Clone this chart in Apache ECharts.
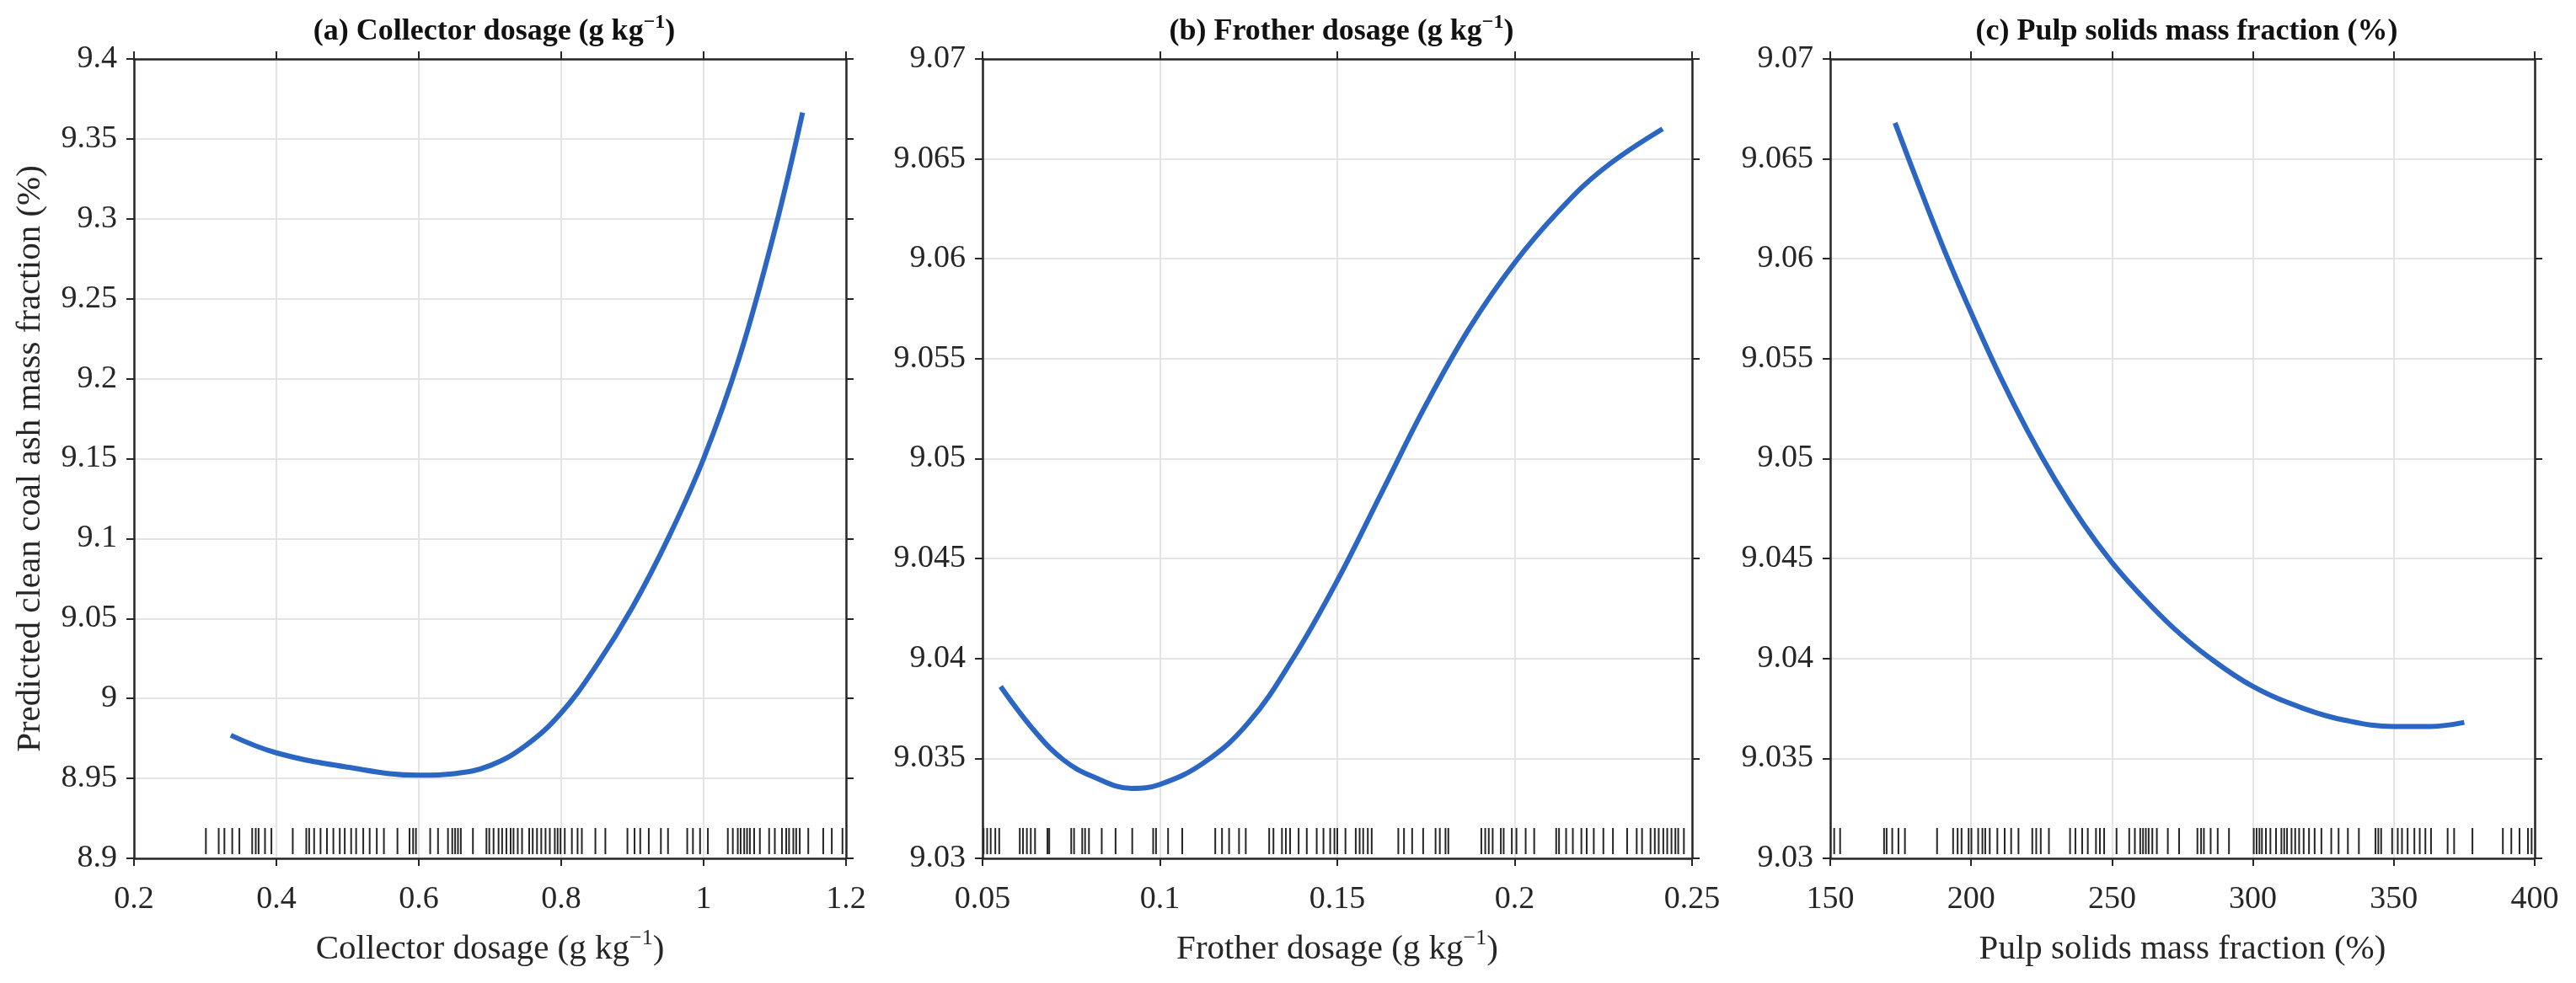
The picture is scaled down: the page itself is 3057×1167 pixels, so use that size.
<!DOCTYPE html>
<html>
<head>
<meta charset="utf-8">
<script src="https://cdn.jsdelivr.net/npm/echarts@6/dist/echarts.min.js"></script>
<style>
  html, body { margin: 0; padding: 0; background: #fff; }
  #main { width: 3057px; height: 1167px; }
</style>
</head>
<body>
<div id="main"></div>
<script>
// partial dependence curves
const collectorX = [0.336, 0.4, 0.5, 0.6, 0.65, 0.7, 0.75, 0.8, 0.85, 0.9, 0.95, 1.0, 1.05, 1.1, 1.139];
const collectorY = [8.977, 8.966, 8.957, 8.952, 8.953, 8.958, 8.9705, 8.991, 9.021, 9.057, 9.100, 9.150, 9.213, 9.293, 9.3665];

const frotherX = [0.0551, 0.065, 0.073, 0.081, 0.092, 0.1, 0.1125, 0.125, 0.1375, 0.15, 0.1625, 0.175, 0.1875, 0.2, 0.2125, 0.225, 0.2417];
const frotherY = [9.0386, 9.0363, 9.0349, 9.0341, 9.0335, 9.0337, 9.0348, 9.0368, 9.0400, 9.0439, 9.0483, 9.0527, 9.0566, 9.0598, 9.0624, 9.0645, 9.0665];

const pulpX = [173, 180, 190, 200, 210, 220, 230, 240, 250, 260, 272, 284, 300, 318, 333, 350, 363, 375];
const pulpY = [9.0668, 9.0642, 9.0606, 9.0573, 9.0542, 9.0514, 9.0489, 9.0467, 9.0448, 9.0432, 9.0415, 9.0401, 9.0386, 9.0375, 9.0369, 9.0366, 9.0366, 9.0368];

// rug: sample positions along x
const collectorRug = [0.301, 0.319, 0.327, 0.338, 0.348, 0.366, 0.371, 0.375, 0.384, 0.393, 0.423, 0.442, 0.446, 0.453, 0.462, 0.471, 0.480, 0.489, 0.496, 0.505, 0.512, 0.522, 0.531, 0.541, 0.551, 0.570, 0.587, 0.592, 0.596, 0.616, 0.627, 0.641, 0.647, 0.651, 0.655, 0.659, 0.676, 0.695, 0.699, 0.705, 0.712, 0.717, 0.723, 0.729, 0.733, 0.739, 0.745, 0.755, 0.760, 0.766, 0.772, 0.778, 0.784, 0.791, 0.795, 0.799, 0.805, 0.815, 0.823, 0.829, 0.848, 0.862, 0.893, 0.903, 0.911, 0.923, 0.940, 0.950, 0.977, 0.985, 0.995, 1.006, 1.034, 1.041, 1.048, 1.052, 1.057, 1.061, 1.065, 1.071, 1.079, 1.092, 1.100, 1.110, 1.116, 1.120, 1.126, 1.130, 1.135, 1.147, 1.168, 1.180, 1.195];
const frotherRug = [0.0503, 0.0513, 0.0523, 0.0536, 0.0547, 0.0605, 0.0614, 0.0625, 0.0636, 0.0648, 0.0683, 0.0688, 0.0750, 0.0758, 0.0781, 0.0789, 0.0800, 0.0836, 0.0875, 0.0922, 0.0981, 0.0989, 0.1023, 0.1063, 0.1156, 0.1175, 0.1195, 0.1223, 0.1242, 0.1308, 0.1320, 0.1344, 0.1355, 0.1367, 0.1391, 0.1414, 0.1442, 0.1461, 0.1480, 0.1492, 0.1500, 0.1523, 0.1552, 0.1563, 0.1573, 0.1586, 0.1597, 0.1672, 0.1688, 0.1711, 0.1742, 0.1777, 0.1789, 0.1805, 0.1813, 0.1906, 0.1917, 0.1927, 0.1938, 0.1961, 0.1969, 0.1992, 0.2005, 0.2031, 0.2055, 0.2117, 0.2125, 0.2145, 0.2164, 0.2188, 0.2203, 0.2223, 0.2250, 0.2277, 0.2317, 0.2344, 0.2359, 0.2383, 0.2395, 0.2406, 0.2419, 0.2430, 0.2442, 0.2453, 0.2461, 0.2477];
const pulpRug = [151.4, 153.5, 169.1, 170, 172, 174.2, 176.5, 187.9, 193.6, 195.2, 196.6, 199.1, 200.1, 202.5, 204, 205, 206.6, 209.3, 211.9, 214.2, 216.8, 221.7, 223.1, 224.7, 227.6, 235.1, 237, 239.4, 241.4, 244.3, 245.7, 247.2, 251.6, 256.1, 258.1, 260, 261, 262, 263, 264.3, 265.9, 269.8, 273.8, 280.3, 281.6, 282.6, 285, 287.5, 291.5, 300.3, 301.3, 302.3, 303.2, 304.6, 306.2, 308.2, 310.1, 311.1, 312.1, 313.7, 315, 316.4, 318, 319.9, 321.9, 324.3, 327.8, 330.4, 333.7, 337.6, 343.5, 344.5, 345.5, 349.4, 351.4, 352.9, 354.9, 357.3, 359.2, 361.2, 363.2, 369.1, 371.4, 377.9, 388.7, 391.7, 394.6, 397.6, 398.9];

// axis ranges / ticks
const collectorAxis = { xMin: 0.2, xMax: 1.2, xStep: 0.2, yMin: 8.9, yMax: 9.4, yStep: 0.05 };
const frotherAxis = { xMin: 0.05, xMax: 0.25, xStep: 0.05, yMin: 9.03, yMax: 9.07, yStep: 0.005 };
const pulpAxis = { xMin: 150, xMax: 400, xStep: 50, yMin: 9.03, yMax: 9.07, yStep: 0.005 };

const titles = ['(a) Collector dosage (g kg{sup|\u22121})', '(b) Frother dosage (g kg{sup|\u22121})', '(c) Pulp solids mass fraction (%)'];
const xNames = ['Collector dosage (g kg{sup|\u22121})', 'Frother dosage (g kg{sup|\u22121})', 'Pulp solids mass fraction (%)'];
const yName = 'Predicted clean coal ash mass fraction (%)';

const FONT = '"Liberation Serif", "Times New Roman", serif';
const INK = '#262626';
const BLUE = '#2b66c2';

const grids = [
  { left: 159, right: 3057 - 1004, top: 70, bottom: 1167 - 1019 },
  { left: 1166, right: 3057 - 2008, top: 70, bottom: 1167 - 1019 },
  { left: 2172, right: 3057 - 3008, top: 70, bottom: 1167 - 1019 }
];

const fmt = v => String(+v.toFixed(6));

const axisBase = {
  axisLine: { show: true, onZero: false, lineStyle: { color: INK, width: 2.5 } },
  axisTick: { show: true, inside: false, length: 9, lineStyle: { color: INK, width: 2 } },
};

const xAxes = [], yAxes = [], series = [], titleOpts = [];
const panels = [
  { ax: collectorAxis, x: collectorX, y: collectorY, rug: collectorRug },
  { ax: frotherAxis, x: frotherX, y: frotherY, rug: frotherRug },
  { ax: pulpAxis, x: pulpX, y: pulpY, rug: pulpRug }
];

panels.forEach((p, i) => {
  const ax = p.ax;
  xAxes.push(Object.assign({}, axisBase, {
    type: 'value', gridIndex: i, position: 'bottom',
    min: ax.xMin, max: ax.xMax, interval: ax.xStep,
    splitLine: { show: true, lineStyle: { color: '#e4e4e4', width: 2 } },
    axisLabel: { color: INK, fontFamily: FONT, fontSize: 38, margin: 30, formatter: fmt, showMinLabel: true, showMaxLabel: true },
    name: xNames[i], nameLocation: 'middle', nameGap: 82,
    nameTextStyle: { color: INK, fontFamily: FONT, fontSize: 41, lineHeight: 52,
      rich: { sup: { fontFamily: FONT, fontSize: 26, lineHeight: 26, verticalAlign: 'top', color: INK } } }
  }));
  xAxes.push(Object.assign({}, axisBase, {
    type: 'value', gridIndex: i, position: 'top',
    min: ax.xMin, max: ax.xMax, interval: ax.xStep,
    splitLine: { show: false }, axisLabel: { show: false }
  }));
  const yLeft = Object.assign({}, axisBase, {
    type: 'value', gridIndex: i, position: 'left',
    min: ax.yMin, max: ax.yMax, interval: ax.yStep,
    splitLine: { show: true, lineStyle: { color: '#e4e4e4', width: 2 } },
    axisLabel: { color: INK, fontFamily: FONT, fontSize: 38, margin: 20, formatter: fmt, showMinLabel: true, showMaxLabel: true }
  });
  if (i === 0) {
    yLeft.name = yName;
    yLeft.nameLocation = 'middle';
    yLeft.nameGap = 102;
    yLeft.nameTextStyle = { color: INK, fontFamily: FONT, fontSize: 41 };
  }
  yAxes.push(yLeft);
  yAxes.push(Object.assign({}, axisBase, {
    type: 'value', gridIndex: i, position: 'right',
    min: ax.yMin, max: ax.yMax, interval: ax.yStep,
    splitLine: { show: false }, axisLabel: { show: false }
  }));

  series.push({
    type: 'line', xAxisIndex: 2 * i, yAxisIndex: 2 * i,
    data: p.x.map((v, k) => [v, p.y[k]]),
    smooth: 0.4, showSymbol: false, symbol: 'none',
    lineStyle: { color: BLUE, width: 6 }, z: 5
  });
  // rug ticks just above the bottom axis
  series.push({
    type: 'custom', xAxisIndex: 2 * i, yAxisIndex: 2 * i,
    data: p.rug.map(v => [v, ax.yMin]),
    renderItem: function (params, api) {
      const pt = api.coord([api.value(0), api.value(1)]);
      return {
        type: 'line',
        shape: { x1: pt[0], y1: pt[1] - 5, x2: pt[0], y2: pt[1] - 36 },
        style: { stroke: '#262626', lineWidth: 2 }
      };
    },
    z: 4
  });

  const g = grids[i];
  const center = g.left + (3057 - g.right - g.left) / 2;
  titleOpts.push({
    text: titles[i], left: center, top: 10, textAlign: 'center',
    textStyle: { color: '#111', fontFamily: FONT, fontSize: 36, fontWeight: 'bold', lineHeight: 46,
      rich: { sup: { fontFamily: FONT, fontSize: 24, lineHeight: 24, fontWeight: 'bold', verticalAlign: 'top', color: '#111' } } }
  });
});

const chart = echarts.init(document.getElementById('main'));
chart.setOption({
  backgroundColor: '#fff',
  animation: false,
  title: titleOpts,
  grid: grids,
  xAxis: xAxes,
  yAxis: yAxes,
  series: series
});
</script>
</body>
</html>
